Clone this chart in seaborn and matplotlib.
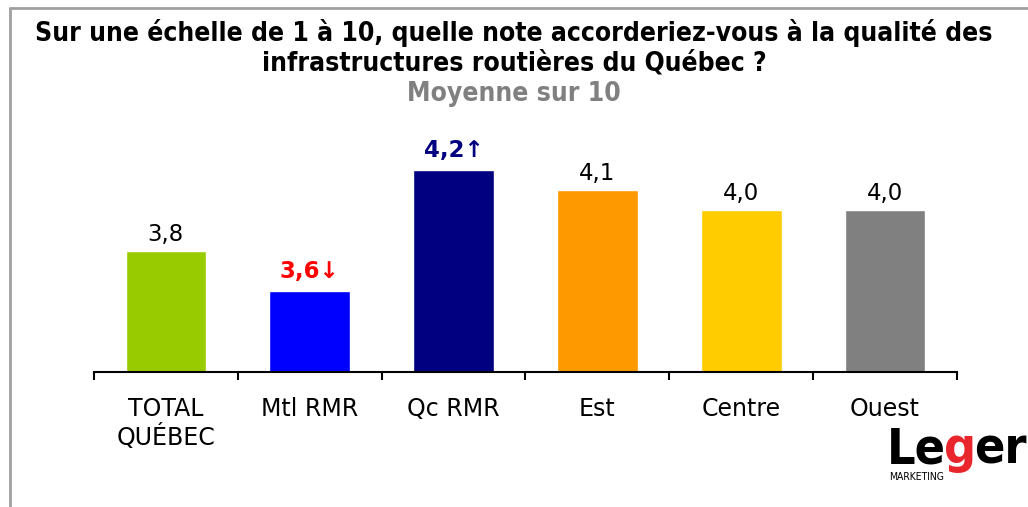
import matplotlib
matplotlib.use("Agg")
import matplotlib.pyplot as plt
import seaborn as sns
import pandas as pd
from matplotlib.lines import Line2D

categories = ["TOTAL\nQUÉBEC", "Mtl RMR", "Qc RMR", "Est", "Centre", "Ouest"]
values = [3.8, 3.6, 4.2, 4.1, 4.0, 4.0]
value_labels = ["3,8", "3,6↓", "4,2↑", "4,1", "4,0", "4,0"]
bar_colors = ["#99CC00", "#0000FF", "#000080", "#FF9900", "#FFCC00", "#808080"]
label_colors = ["black", "#FF0000", "#000080", "black", "black", "black"]
label_bold = [False, True, True, False, False, False]

title_line1 = "Sur une échelle de 1 à 10, quelle note accorderiez-vous à la qualité des"
title_line2 = "infrastructures routières du Québec ?"
subtitle = "Moyenne sur 10"

sns.set_theme(style="white")
plt.rcParams['font.family'] = ['DejaVu Sans']

W, H = 1028, 507
fig = plt.figure(figsize=(W / 100, H / 100), dpi=100)
fig.patch.set_facecolor("white")

ax = fig.add_axes([94 / W, 1 - 372 / H, (957 - 94) / W, (372 - 120) / H])
df = pd.DataFrame({"cat": categories, "val": values})
sns.barplot(data=df, x="cat", y="val", hue="cat", palette=bar_colors,
            legend=False, width=0.56, saturation=1, ax=ax)
ax.set_xlim(-0.5, 5.5)
ax.set_ylim(3.2, 3.2 + (372 - 120) / 202.5)
ax.set_xlabel("")
ax.set_ylabel("")
ax.set_yticks([])
for s in ["top", "right", "left"]:
    ax.spines[s].set_visible(False)
ax.spines["bottom"].set_color("black")
ax.spines["bottom"].set_linewidth(1.5)

# boundary ticks (major) and label positions (minor)
ax.set_xticks([i - 0.5 for i in range(len(categories) + 1)])
ax.set_xticklabels([""] * (len(categories) + 1))
ax.tick_params(axis="x", which="major", direction="out", length=6, width=1.5,
               color="black", bottom=True)
ax.set_xticks(range(len(categories)), minor=True)
ax.set_xticklabels(categories, minor=True, fontsize=17, color="black",
                   linespacing=1.15)
ax.tick_params(axis="x", which="minor", length=0, pad=18)

for i, (v, t, c, b) in enumerate(zip(values, value_labels, label_colors, label_bold)):
    ax.annotate(t, xy=(i, v), xytext=(0, 10 if not b else 13),
                textcoords="offset pixels", ha="center", va="baseline",
                fontsize=16.5, color=c, fontweight="bold" if b else "normal")

# titles
fig.text(0.5, 1 - 41 / H, title_line1, ha="center", va="baseline",
         fontsize=19, fontweight="bold", fontstretch="condensed", color="black")
fig.text(0.5, 1 - 70 / H, title_line2, ha="center", va="baseline",
         fontsize=19, fontweight="bold", fontstretch="condensed", color="black")
fig.text(0.5, 1 - 101 / H, subtitle, ha="center", va="baseline",
         fontsize=19, fontweight="bold", fontstretch="condensed", color="#808080")

# frame lines
fig.add_artist(Line2D([10 / W, 1.0], [1 - 8 / H, 1 - 8 / H], transform=fig.transFigure,
                      color="#A0A0A0", linewidth=2))
fig.add_artist(Line2D([10 / W, 10 / W], [1 - 8 / H, 0.0], transform=fig.transFigure,
                      color="#A0A0A0", linewidth=2))

# logo
renderer = fig.canvas.get_renderer()
x = 887
for part, col in [("Le", "black"), ("g", "#E8262C"), ("er", "black")]:
    t = fig.text(x / W, 1 - 463 / H, part, fontsize=36, fontweight="heavy",
                 fontstretch="condensed", color=col, ha="left", va="baseline")
    bb = t.get_window_extent(renderer)
    x += bb.width - 2
fig.text(889 / W, 1 - 480 / H, "MARKETING", fontsize=7.5, color="black",
         fontstretch="condensed", ha="left", va="baseline")

fig.savefig("out.png", dpi=100, facecolor="white")
